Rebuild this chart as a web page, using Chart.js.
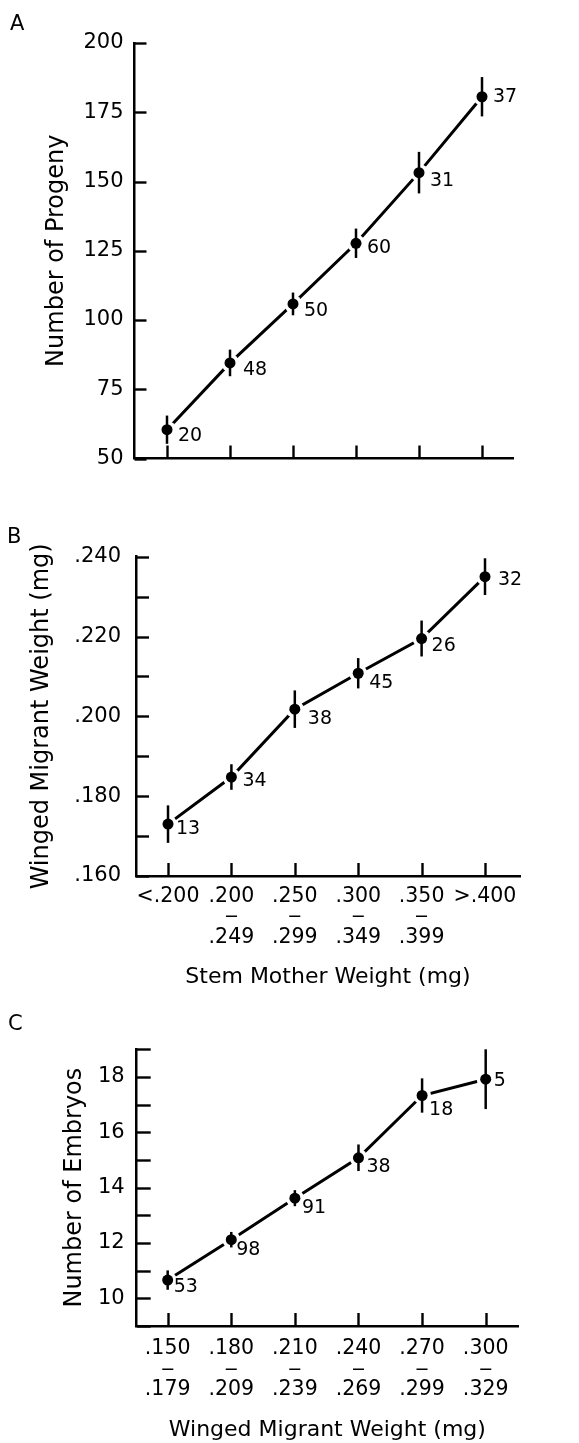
<!DOCTYPE html>
<html>
<head>
<meta charset="utf-8">
<script src="https://cdn.jsdelivr.net/npm/chart.js@4/dist/chart.umd.min.js"></script>
<style>
  html, body { margin: 0; padding: 0; background: #fff; }
  body { width: 579px; height: 1443px; position: relative; overflow: hidden; }
  canvas { position: absolute; left: 0; }
</style>
</head>
<body>
<canvas id="panelA" width="579" height="480" style="top:0px"></canvas>
<canvas id="panelB" width="579" height="520" style="top:480px"></canvas>
<canvas id="panelC" width="579" height="443" style="top:1000px"></canvas>
<script>
// ---------------- DATA ----------------
const stemMotherClasses = ['<.200', ['.200', '‒', '.249'], ['.250', '‒', '.299'], ['.300', '‒', '.349'], ['.350', '‒', '.399'], '>.400'];
const migrantClasses = [['.150', '‒', '.179'], ['.180', '‒', '.209'], ['.210', '‒', '.239'], ['.240', '‒', '.269'], ['.270', '‒', '.299'], ['.300', '‒', '.329']];

// Panel A: number of progeny vs stem mother weight
const progenyMean = [60.4, 84.5, 105.8, 127.7, 153.2, 180.6];
const progenyErr = [5.1, 4.8, 4.1, 5.3, 7.5, 7.1];
const progenyN = [20, 48, 50, 60, 31, 37];
const progenyTicks = [50, 75, 100, 125, 150, 175, 200];
const progenyTickLabels = ['50', '75', '100', '125', '150', '175', '200'];

// Panel B: winged migrant weight vs stem mother weight
const migrantWeightMean = [0.1730, 0.1848, 0.2018, 0.2108, 0.2195, 0.2350];
const migrantWeightErr = [0.0047, 0.0032, 0.0047, 0.0038, 0.0045, 0.0046];
const migrantWeightN = [13, 34, 38, 45, 26, 32];
const migrantWeightTicks = [0.16, 0.17, 0.18, 0.19, 0.20, 0.21, 0.22, 0.23, 0.24];
const migrantWeightTickLabels = ['.160', '', '.180', '', '.200', '', '.220', '', '.240'];

// Panel C: number of embryos vs winged migrant weight
const embryoMean = [10.66, 12.12, 13.62, 15.08, 17.33, 17.92];
const embryoErr = [0.35, 0.28, 0.29, 0.48, 0.62, 1.08];
const embryoN = [53, 98, 91, 38, 18, 5];
const embryoTicks = [9, 10, 11, 12, 13, 14, 15, 16, 17, 18, 19];
const embryoTickLabels = ['', '10', '', '12', '', '14', '', '16', '', '18', ''];

// ---------------- RENDERING ----------------
const FONT = 'DejaVu Sans';

const extrasPlugin = {
  id: 'panelExtras',
  afterDatasetsDraw(chart, args, o) {
    const ctx = chart.ctx;
    const x = chart.scales.x, y = chart.scales.y;
    ctx.save();
    // error bars
    ctx.strokeStyle = '#000';
    ctx.lineWidth = 2.5;
    ctx.lineCap = 'butt';
    o.means.forEach((m, i) => {
      const px = x.getPixelForValue(i);
      ctx.beginPath();
      ctx.moveTo(px, y.getPixelForValue(m - o.errors[i]));
      ctx.lineTo(px, y.getPixelForValue(m + o.errors[i]));
      ctx.stroke();
    });
    // sample sizes
    ctx.fillStyle = '#000';
    ctx.font = '19px "' + FONT + '"';
    ctx.textAlign = 'left';
    ctx.textBaseline = 'middle';
    o.counts.forEach((n, i) => {
      const px = x.getPixelForValue(i);
      const py = y.getPixelForValue(o.means[i]);
      ctx.fillText(String(n), px + o.dx[i], py + o.dy[i]);
    });
    ctx.restore();
  },
  afterDraw(chart, args, o) {
    const ctx = chart.ctx;
    const x = chart.scales.x, y = chart.scales.y;
    const area = chart.chartArea;
    ctx.save();
    ctx.strokeStyle = '#000';
    ctx.lineWidth = 2.4;
    // inward tick marks
    x.ticks.forEach(t => {
      const px = Math.round(x.getPixelForValue(t.value)) + 0.5;
      ctx.beginPath();
      ctx.moveTo(px, area.bottom);
      ctx.lineTo(px, area.bottom - o.xTickLen);
      ctx.stroke();
    });
    y.ticks.forEach(t => {
      const py = Math.round(y.getPixelForValue(t.value)) + 0.5;
      ctx.beginPath();
      ctx.moveTo(area.left, py);
      ctx.lineTo(area.left + o.yTickLen, py);
      ctx.stroke();
    });
    // panel letter
    ctx.fillStyle = '#000';
    ctx.font = '21px "' + FONT + '"';
    ctx.textAlign = 'left';
    ctx.textBaseline = 'alphabetic';
    ctx.fillText(o.letter, o.letterX, o.letterY);
    ctx.restore();
  }
};

function makePanel(id, p) {
  const pts = p.means.map((v, i) => ({ x: i, y: v }));
  return new Chart(document.getElementById(id), {
    type: 'line',
    data: {
      datasets: [
        { data: pts, showLine: false, pointRadius: 5.5, pointHoverRadius: 5.5, pointBackgroundColor: '#000', pointBorderWidth: 0 },
        { data: pts, showLine: false, pointRadius: 9, pointHoverRadius: 9, pointBackgroundColor: '#fff', pointBorderWidth: 0 },
        { data: pts, showLine: true, borderColor: '#000', borderWidth: 3, pointRadius: 0, tension: 0, fill: false }
      ]
    },
    options: {
      responsive: false,
      animation: false,
      events: [],
      layout: { padding: { left: p.padL, right: p.padR, top: p.padT, bottom: p.padB } },
      plugins: {
        legend: { display: false },
        tooltip: { enabled: false },
        panelExtras: {
          means: p.means, errors: p.errors, counts: p.counts, dx: p.dx, dy: p.dy,
          xTickLen: 13, yTickLen: p.yTickLen,
          letter: p.letter, letterX: p.letterX, letterY: p.letterY
        }
      },
      scales: {
        x: {
          type: 'linear',
          min: p.xMin, max: p.xMax,
          grid: { display: false, drawTicks: false },
          border: { display: true, color: '#000', width: 2.5 },
          afterBuildTicks: s => { s.ticks = p.xLabels.map((_, i) => ({ value: i })); },
          afterFit: s => { s.height = p.xHeight; },
          ticks: {
            autoSkip: false, maxRotation: 0, minRotation: 0,
            padding: p.xPad, color: '#000',
            font: { family: FONT, size: 20.5, lineHeight: 1.0 },
            callback: (v) => p.showXLabels ? p.xLabels[v] : ''
          },
          title: {
            display: !!p.xTitle, text: p.xTitle || '', color: '#000', padding: 0,
            font: { family: FONT, size: 22, lineHeight: 1.2 }
          }
        },
        y: {
          type: 'linear',
          min: p.yMin, max: p.yMax,
          grid: { display: false, drawTicks: false },
          border: { display: true, color: '#000', width: 2.5 },
          afterBuildTicks: s => { s.ticks = p.yTicks.map(v => ({ value: v })); },
          afterFit: s => { s.width = p.yWidth; },
          ticks: {
            autoSkip: false, padding: p.yPad, color: '#000',
            font: { family: FONT, size: 21, lineHeight: 1.0 },
            callback: (v, i) => p.yTickLabels[i]
          },
          title: {
            display: true, text: p.yTitle, color: '#000', padding: 0,
            font: { family: FONT, size: 24, lineHeight: 1.2 }
          }
        }
      }
    },
    plugins: [extrasPlugin]
  });
}

makePanel('panelA', {
  means: progenyMean, errors: progenyErr, counts: progenyN,
  dx: [11, 13, 11, 11, 11, 11], dy: [6, 7, 7.5, 4.5, 8, 0],
  xLabels: stemMotherClasses, showXLabels: false, xTitle: '',
  yTicks: progenyTicks, yTickLabels: progenyTickLabels, yTitle: 'Number of Progeny',
  yMin: 50, yMax: 200, xMin: -0.516, xMax: 5.492,
  padL: 42.3, padR: 66, padT: 43, padB: 0,
  yWidth: 92.2, xHeight: 20, xPad: 10, yPad: 11, yTickLen: 12,
  letter: 'A', letterX: 10, letterY: 30
});

makePanel('panelB', {
  means: migrantWeightMean, errors: migrantWeightErr, counts: migrantWeightN,
  dx: [8, 11, 13, 11, 10, 13], dy: [5, 4, 10, 10, 8, 3],
  xLabels: stemMotherClasses, showXLabels: true, xTitle: 'Stem Mother Weight (mg)',
  yTicks: migrantWeightTicks, yTickLabels: migrantWeightTickLabels, yTitle: 'Winged Migrant Weight (mg)',
  yMin: 0.16, yMax: 0.24, xMin: -0.505, xMax: 5.552,
  padL: 27.3, padR: 59, padT: 76.7, padB: 9.8,
  yWidth: 108.7, xHeight: 114.2, xPad: 10.2, yPad: 15, yTickLen: 13,
  letter: 'B', letterX: 7, letterY: 63
});

makePanel('panelC', {
  means: embryoMean, errors: embryoErr, counts: embryoN,
  dx: [6, 5, 7, 8, 7, 8], dy: [7, 10, 10, 9, 15, 2],
  xLabels: migrantClasses, showXLabels: true, xTitle: 'Winged Migrant Weight (mg)',
  yTicks: embryoTicks, yTickLabels: embryoTickLabels, yTitle: 'Number of Embryos',
  yMin: 9, yMax: 19, xMin: -0.487, xMax: 5.508,
  padL: 60.6, padR: 61, padT: 49.3, padB: 0,
  yWidth: 76.1, xHeight: 117, xPad: 12.7, yPad: 12, yTickLen: 14,
  letter: 'C', letterX: 8, letterY: 30
});
</script>
</body>
</html>
